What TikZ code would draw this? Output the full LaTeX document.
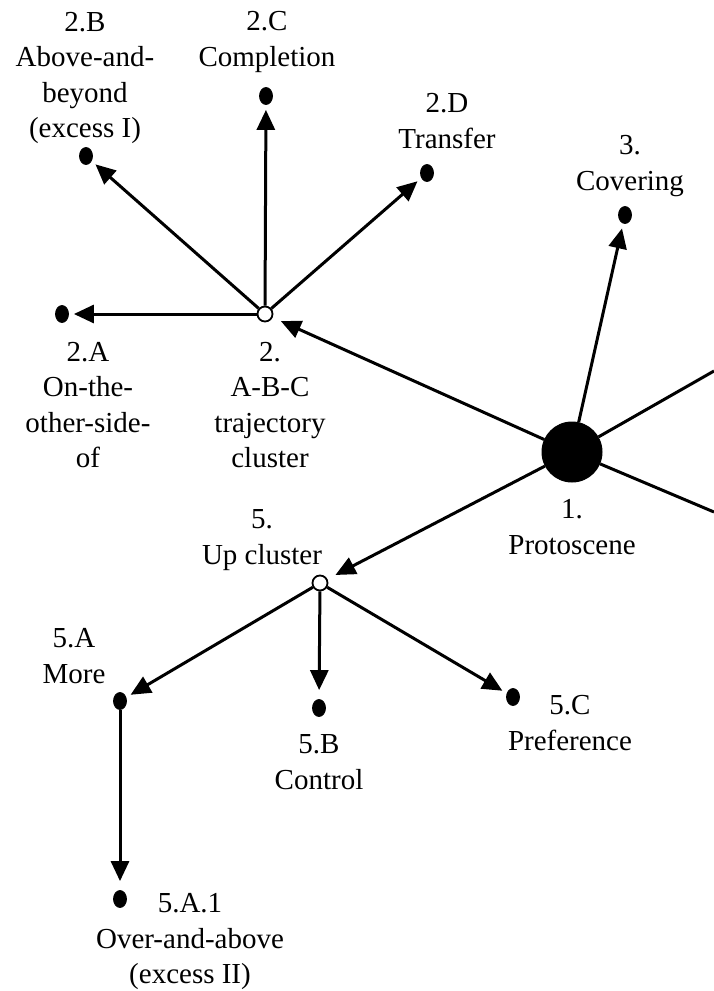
\documentclass[tikz,border=0pt]{standalone}
\usepackage{fontspec}
\setmainfont{Liberation Serif}
\usetikzlibrary{arrows.meta,shapes.geometric}
\tikzset{
  dotnode/.style={ellipse,fill=black,draw=black,line width=0.8pt,minimum width=13pt,minimum height=17pt,inner sep=0pt},
  opennode/.style={circle,fill=white,draw=black,line width=1.8pt,minimum size=15pt,inner sep=0pt},
  bignode/.style={circle,fill=black,draw=black,line width=1pt,minimum size=60pt,inner sep=0pt},
  lbl/.style={align=center,inner sep=0pt,font=\fontsize{29}{35.5}\selectfont},
  arr/.style={line width=3pt,-{Triangle[length=20pt,width=18pt]},shorten >=5pt},
  plain/.style={line width=3pt}
}
\begin{document}
\begin{tikzpicture}[x=1pt,y=-1pt]
\useasboundingbox (0,0) rectangle (714,991);
% nodes
\node[bignode] (n1) at (572,452) {};
\node[opennode] (n2) at (265,314) {};
\node[opennode] (n5) at (320,583) {};
\node[dotnode] (n2a) at (62,314) {};
\node[dotnode] (n2b) at (86,156) {};
\node[dotnode] (n2c) at (266,96) {};
\node[dotnode] (n2d) at (427,173) {};
\node[dotnode] (n3) at (625,215) {};
\node[dotnode] (n5a) at (120,701) {};
\node[dotnode] (n5b) at (319,708) {};
\node[dotnode] (n5c) at (513,697) {};
\node[dotnode] (n5a1) at (120,899) {};
\coordinate (offA) at (714,371);
\coordinate (offB) at (714,512);
% labels
\node[lbl] (l2b) at (85,78) {2.B\\Above-and-\\beyond\\(excess I)};
\node[lbl] (l2c) at (267,42) {2.C\\Completion};
\node[lbl] (l2d) at (447,121) {2.D\\Transfer};
\node[lbl] (l3) at (630,166) {3.\\Covering};
\node[lbl] (l2a) at (88,405) {2.A\\On-the-\\other-side-\\of};
\node[lbl] (l2) at (270,405) {2.\\A-B-C\\trajectory\\cluster};
\node[lbl] (l1) at (572,527) {1.\\Protoscene};
\node[lbl] (l5) at (262,540) {5.\\Up cluster};
\node[lbl] (l5a) at (74,656) {5.A\\More};
\node[lbl] (l5b) at (319,762) {5.B\\Control};
\node[lbl] (l5c) at (570,723) {5.C\\Preference};
\node[lbl] (l5a1) at (190,942) {5.A.1\\Over-and-above\\(excess II)};
% connectors
\draw[arr,shorten >=9pt] (n1) -- (n2);
\draw[arr,shorten >=9pt] (n1) -- (n5);
\draw[arr] (n1) -- (n3);
\draw[plain] (n1) -- (offA);
\draw[plain] (n1) -- (offB);
\draw[arr] (n2) -- (n2a);
\draw[arr] (n2) -- (n2b);
\draw[arr] (n2) -- (n2c);
\draw[arr] (n2) -- (n2d);
\draw[arr] (n5) -- (n5a);
\draw[arr,shorten >=9pt] (n5) -- (n5b);
\draw[arr] (n5) -- (n5c);
\draw[arr,shorten >=9pt] (n5a) -- (n5a1);
\end{tikzpicture}
\end{document}
